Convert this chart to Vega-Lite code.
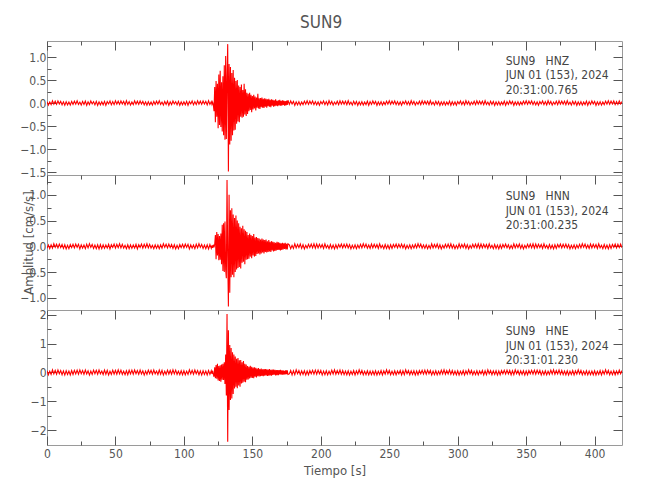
{
"$schema": "https://vega.github.io/schema/vega-lite/v6.json",
"padding": {"left": 19, "top": 14, "right": 10, "bottom": 10},
"title": {"text": "SUN9", "anchor": "middle", "offset": 7},
"spacing": 0,
"bounds": "flush",
"config": {
  "font": "Liberation Sans Narrow, DejaVu Sans Condensed, Liberation Sans, sans-serif",
  "view": {"stroke": "#9a9a9a", "strokeWidth": 1},
  "axis": {"domain": false, "grid": false, "labelColor": "#555555", "labelFontSize": 12, "titleColor": "#555555", "titleFontSize": 13, "titleFontWeight": "normal", "tickColor": "#555555", "tickWidth": 1, "labelFlush": false, "labelOverlap": false, "labelBound": false},
  "title": {"fontSize": 17, "fontWeight": "normal", "color": "#555555"}
},
"datasets": {
"w": [
{"t":0,"z":0.03,"n":-0.04,"e":0.06},{"t":1,"z":-0.045,"n":0.025,"e":-0.08},{"t":2,"z":0.02,"n":-0.045,"e":0.045},{"t":3,"z":-0.035,"n":0.03,"e":-0.07},{"t":4,"z":0.05,"n":-0.035,"e":0.09},{"t":5,"z":-0.025,"n":0.05,"e":-0.05},{"t":6,"z":0.04,"n":-0.02,"e":0.075},{"t":7,"z":-0.03,"n":0.04,"e":-0.06},{"t":8,"z":0.045,"n":-0.03,"e":0.085},{"t":9,"z":-0.02,"n":0.045,"e":-0.045},
{"t":10,"z":0.035,"n":-0.025,"e":0.065},{"t":11,"z":-0.04,"n":0.035,"e":-0.08},{"t":12,"z":0.025,"n":-0.04,"e":0.055},{"t":13,"z":-0.05,"n":0.03,"e":-0.09},{"t":14,"z":0.03,"n":-0.05,"e":0.06},{"t":15,"z":-0.04,"n":0.02,"e":-0.07},{"t":16,"z":0.02,"n":-0.045,"e":0.05},{"t":17,"z":-0.045,"n":0.035,"e":-0.085},{"t":18,"z":0.035,"n":-0.025,"e":0.065},{"t":19,"z":-0.03,"n":0.04,"e":-0.07},
{"t":20,"z":0.04,"n":-0.03,"e":0.075},{"t":21,"z":-0.025,"n":0.045,"e":-0.05},{"t":22,"z":0.05,"n":-0.02,"e":0.08},{"t":23,"z":-0.03,"n":0.04,"e":-0.06},{"t":24,"z":0.02,"n":-0.05,"e":0.09},{"t":25,"z":-0.045,"n":0.03,"e":-0.045},{"t":26,"z":0.035,"n":-0.035,"e":0.07},{"t":27,"z":-0.03,"n":0.025,"e":-0.065},{"t":28,"z":0.04,"n":-0.045,"e":0.085},{"t":29,"z":-0.05,"n":0.04,"e":-0.055},
{"t":30,"z":0.025,"n":-0.03,"e":0.06},{"t":31,"z":-0.035,"n":0.05,"e":-0.09},{"t":32,"z":0.045,"n":-0.02,"e":0.05},{"t":33,"z":-0.02,"n":0.035,"e":-0.07},{"t":34,"z":0.03,"n":-0.04,"e":0.08},{"t":35,"z":-0.04,"n":0.025,"e":-0.045},{"t":36,"z":0.035,"n":-0.045,"e":0.075},{"t":37,"z":-0.05,"n":0.03,"e":-0.06},{"t":38,"z":0.025,"n":-0.05,"e":0.085},{"t":39,"z":-0.04,"n":0.035,"e":-0.05},
{"t":40,"z":0.025,"n":-0.045,"e":0.05},{"t":41,"z":-0.04,"n":0.03,"e":-0.07},{"t":42,"z":0.035,"n":-0.04,"e":0.085},{"t":43,"z":-0.05,"n":0.025,"e":-0.06},{"t":44,"z":0.03,"n":-0.035,"e":0.075},{"t":45,"z":-0.02,"n":0.04,"e":-0.09},{"t":46,"z":0.045,"n":-0.05,"e":0.045},{"t":47,"z":-0.04,"n":0.03,"e":-0.065},{"t":48,"z":0.03,"n":-0.02,"e":0.08},{"t":49,"z":-0.035,"n":0.045,"e":-0.055},
{"t":50,"z":0.05,"n":-0.035,"e":0.07},{"t":51,"z":-0.025,"n":0.04,"e":-0.06},{"t":52,"z":0.04,"n":-0.025,"e":0.09},{"t":53,"z":-0.03,"n":0.05,"e":-0.05},{"t":54,"z":0.045,"n":-0.03,"e":0.08},{"t":55,"z":-0.02,"n":0.04,"e":-0.065},{"t":56,"z":0.035,"n":-0.035,"e":0.045},{"t":57,"z":-0.04,"n":0.02,"e":-0.075},{"t":58,"z":0.05,"n":-0.045,"e":0.06},{"t":59,"z":-0.03,"n":0.03,"e":-0.08},
{"t":60,"z":0.03,"n":-0.045,"e":0.075},{"t":61,"z":-0.045,"n":0.03,"e":-0.05},{"t":62,"z":0.02,"n":-0.04,"e":0.08},{"t":63,"z":-0.035,"n":0.025,"e":-0.06},{"t":64,"z":0.05,"n":-0.035,"e":0.09},{"t":65,"z":-0.025,"n":0.04,"e":-0.045},{"t":66,"z":0.04,"n":-0.05,"e":0.07},{"t":67,"z":-0.03,"n":0.03,"e":-0.065},{"t":68,"z":0.045,"n":-0.02,"e":0.085},{"t":69,"z":-0.02,"n":0.045,"e":-0.055},
{"t":70,"z":0.035,"n":-0.035,"e":0.06},{"t":71,"z":-0.04,"n":0.04,"e":-0.09},{"t":72,"z":0.025,"n":-0.025,"e":0.05},{"t":73,"z":-0.05,"n":0.05,"e":-0.07},{"t":74,"z":0.03,"n":-0.03,"e":0.08},{"t":75,"z":-0.04,"n":0.04,"e":-0.045},{"t":76,"z":0.02,"n":-0.035,"e":0.075},{"t":77,"z":-0.045,"n":0.02,"e":-0.06},{"t":78,"z":0.035,"n":-0.045,"e":0.085},{"t":79,"z":-0.03,"n":0.03,"e":-0.05},
{"t":80,"z":0.04,"n":-0.04,"e":0.05},{"t":81,"z":-0.025,"n":0.025,"e":-0.07},{"t":82,"z":0.05,"n":-0.045,"e":0.085},{"t":83,"z":-0.03,"n":0.03,"e":-0.06},{"t":84,"z":0.02,"n":-0.035,"e":0.075},{"t":85,"z":-0.045,"n":0.05,"e":-0.09},{"t":86,"z":0.035,"n":-0.02,"e":0.045},{"t":87,"z":-0.03,"n":0.04,"e":-0.065},{"t":88,"z":0.04,"n":-0.03,"e":0.08},{"t":89,"z":-0.05,"n":0.045,"e":-0.055},
{"t":90,"z":0.025,"n":-0.025,"e":0.07},{"t":91,"z":-0.035,"n":0.035,"e":-0.06},{"t":92,"z":0.045,"n":-0.04,"e":0.09},{"t":93,"z":-0.02,"n":0.03,"e":-0.05},{"t":94,"z":0.03,"n":-0.05,"e":0.08},{"t":95,"z":-0.04,"n":0.02,"e":-0.065},{"t":96,"z":0.035,"n":-0.045,"e":0.045},{"t":97,"z":-0.05,"n":0.035,"e":-0.075},{"t":98,"z":0.025,"n":-0.025,"e":0.06},{"t":99,"z":-0.04,"n":0.04,"e":-0.08},
{"t":100,"z":0.025,"n":-0.03,"e":0.06},{"t":101,"z":-0.04,"n":0.045,"e":-0.08},{"t":102,"z":0.035,"n":-0.02,"e":0.045},{"t":103,"z":-0.05,"n":0.04,"e":-0.07},{"t":104,"z":0.03,"n":-0.05,"e":0.09},{"t":105,"z":-0.02,"n":0.03,"e":-0.05},{"t":106,"z":0.045,"n":-0.035,"e":0.075},{"t":107,"z":-0.04,"n":0.025,"e":-0.06},{"t":108,"z":0.03,"n":-0.045,"e":0.085},{"t":109,"z":-0.035,"n":0.04,"e":-0.045},
{"t":110,"z":0.05,"n":-0.03,"e":0.065},{"t":111,"z":-0.025,"n":0.05,"e":-0.08},{"t":112,"z":0.04,"n":-0.02,"e":0.055},{"t":113,"z":-0.03,"n":0.035,"e":-0.09},{"t":114,"z":0.045,"n":-0.04,"e":0.06},{"t":115,"z":-0.02,"n":0.025,"e":-0.07},{"t":116,"z":0.035,"n":-0.045,"e":0.05},{"t":117,"z":-0.04,"n":0.03,"e":-0.085},{"t":118,"z":0.05,"n":-0.05,"e":0.065},{"t":119,"z":-0.03,"n":0.035,"e":-0.07},
{"t":120,"z":0.03,"n":-0.04,"e":0.06},
{"t":120.5,"z":-0.03,"n":0.02,"e":-0.05},{"t":121,"z":0.02,"n":-0.03,"e":0.06},{"t":121.5,"z":-0.04,"n":0.03,"e":-0.07},{"t":122,"z":-0.18,"n":-0.02,"e":-0.15},{"t":122.5,"z":0.35,"n":0.04,"e":0.18},{"t":123,"z":-0.42,"n":0.22,"e":-0.2},{"t":123.5,"z":0.48,"n":-0.25,"e":0.26},{"t":124,"z":-0.3,"n":0.28,"e":-0.22},{"t":124.5,"z":0.42,"n":-0.18,"e":0.3},{"t":125,"z":-0.55,"n":0.24,"e":-0.28},{"t":125.5,"z":0.62,"n":-0.27,"e":0.22},{"t":126,"z":-0.48,"n":0.2,"e":-0.3},{"t":126.5,"z":0.7,"n":-0.26,"e":0.25},{"t":127,"z":-0.52,"n":0.25,"e":-0.32},{"t":127.5,"z":0.45,"n":-0.35,"e":0.28},{"t":128,"z":-0.62,"n":0.42,"e":-0.25},{"t":128.5,"z":0.58,"n":-0.48,"e":0.3},{"t":129,"z":-0.7,"n":0.45,"e":-0.26},{"t":129.5,"z":0.82,"n":-0.5,"e":0.35},{"t":130,"z":-0.8,"n":0.48,"e":-0.4},{"t":130.5,"z":1.02,"n":-0.45,"e":0.62},{"t":131,"z":-0.78,"n":-0.62,"e":-0.8},{"t":131.5,"z":0.55,"n":1.29,"e":2.03},{"t":132,"z":1.28,"n":-0.2,"e":-2.41},{"t":132.5,"z":-1.49,"n":-1.17,"e":1.47},{"t":133,"z":0.85,"n":1.0,"e":-1.3},{"t":133.5,"z":-0.9,"n":-0.9,"e":0.95},{"t":134,"z":0.78,"n":0.7,"e":-0.96},{"t":134.5,"z":-0.82,"n":-0.6,"e":0.85},{"t":135,"z":0.65,"n":0.74,"e":-0.9},{"t":135.5,"z":-0.7,"n":-0.55,"e":0.7},{"t":136,"z":0.72,"n":0.62,"e":-0.75},{"t":136.5,"z":-0.6,"n":-0.6,"e":0.62},{"t":137,"z":0.55,"n":0.55,"e":-0.56},{"t":137.5,"z":-0.58,"n":-0.5,"e":0.55},{"t":138,"z":0.48,"n":0.6,"e":-0.5},{"t":138.5,"z":-0.45,"n":-0.45,"e":0.48},{"t":139,"z":0.5,"n":0.5,"e":-0.55},{"t":139.5,"z":-0.4,"n":-0.42,"e":0.5},{"t":140,"z":0.38,"n":0.45,"e":-0.45},{"t":140.5,"z":-0.42,"n":-0.4,"e":0.42},{"t":141,"z":0.35,"n":0.38,"e":-0.5},{"t":141.5,"z":-0.3,"n":-0.43,"e":0.43},{"t":142,"z":0.4,"n":0.35,"e":-0.38},{"t":142.5,"z":-0.32,"n":-0.32,"e":0.35},{"t":143,"z":0.28,"n":0.4,"e":-0.36},{"t":143.5,"z":-0.3,"n":-0.3,"e":0.4},{"t":144,"z":0.42,"n":0.33,"e":-0.32},{"t":144.5,"z":-0.25,"n":-0.35,"e":0.3},{"t":145,"z":0.3,"n":0.3,"e":-0.34},{"t":145.5,"z":-0.28,"n":-0.26,"e":0.28},{"t":146,"z":0.22,"n":0.28,"e":-0.25},{"t":146.5,"z":-0.24,"n":-0.25,"e":0.22},{"t":147,"z":0.2,"n":0.22,"e":-0.24},{"t":147.5,"z":-0.18,"n":-0.24,"e":0.2},{"t":148,"z":0.22,"n":0.25,"e":-0.21},{"t":148.5,"z":-0.15,"n":-0.2,"e":0.23},{"t":149,"z":0.18,"n":0.22,"e":-0.18},{"t":149.5,"z":-0.2,"n":-0.23,"e":0.2},{"t":150,"z":0.15,"n":0.2,"e":-0.19},{"t":150.5,"z":-0.14,"n":-0.18,"e":0.17},{"t":151,"z":0.18,"n":0.24,"e":-0.2},{"t":151.5,"z":-0.12,"n":-0.2,"e":0.18},{"t":152,"z":0.14,"n":0.17,"e":-0.15},{"t":152.5,"z":-0.16,"n":-0.19,"e":0.16},{"t":153,"z":0.12,"n":0.18,"e":-0.17},{"t":153.5,"z":-0.1,"n":-0.15,"e":0.14},{"t":154,"z":0.2,"n":0.16,"e":-0.13},{"t":154.5,"z":-0.12,"n":-0.14,"e":0.15},{"t":155,"z":0.1,"n":0.15,"e":-0.14},{"t":155.5,"z":-0.13,"n":-0.16,"e":0.12},{"t":156,"z":0.11,"n":0.13,"e":-0.13},{"t":156.5,"z":-0.09,"n":-0.14,"e":0.14},{"t":157,"z":0.12,"n":0.15,"e":-0.12},{"t":157.5,"z":-0.1,"n":-0.12,"e":0.11},{"t":158,"z":0.09,"n":0.13,"e":-0.13},{"t":158.5,"z":-0.11,"n":-0.14,"e":0.12},{"t":159,"z":0.1,"n":0.12,"e":-0.11},{"t":159.5,"z":-0.08,"n":-0.11,"e":0.12},{"t":160,"z":0.09,"n":0.13,"e":-0.1},{"t":160.5,"z":-0.1,"n":-0.12,"e":0.11},{"t":161,"z":0.08,"n":0.1,"e":-0.12},{"t":161.5,"z":-0.07,"n":-0.11,"e":0.1},{"t":162,"z":0.09,"n":0.12,"e":-0.11},{"t":162.5,"z":-0.08,"n":-0.1,"e":0.12},{"t":163,"z":0.07,"n":0.09,"e":-0.1},{"t":163.5,"z":-0.09,"n":-0.11,"e":0.09},{"t":164,"z":0.08,"n":0.1,"e":-0.11},{"t":164.5,"z":-0.06,"n":-0.08,"e":0.1},{"t":165,"z":0.07,"n":0.09,"e":-0.09},{"t":165.5,"z":-0.08,"n":-0.1,"e":0.1},{"t":166,"z":0.06,"n":0.08,"e":-0.08},{"t":166.5,"z":-0.07,"n":-0.09,"e":0.09},{"t":167,"z":0.08,"n":0.07,"e":-0.1},{"t":167.5,"z":-0.06,"n":-0.08,"e":0.08},{"t":168,"z":0.05,"n":0.09,"e":-0.09},{"t":168.5,"z":-0.07,"n":-0.07,"e":0.08},{"t":169,"z":0.06,"n":0.08,"e":-0.09},{"t":169.5,"z":-0.05,"n":-0.07,"e":0.08},{"t":170,"z":0.07,"n":0.07,"e":-0.07},{"t":170.5,"z":-0.06,"n":-0.08,"e":0.09},{"t":171,"z":0.05,"n":0.06,"e":-0.08},{"t":171.5,"z":-0.06,"n":-0.07,"e":0.07},{"t":172,"z":0.06,"n":0.07,"e":-0.08},{"t":172.5,"z":-0.04,"n":-0.06,"e":0.07},{"t":173,"z":0.05,"n":0.06,"e":-0.08},{"t":173.5,"z":-0.06,"n":-0.05,"e":0.06},{"t":174,"z":0.04,"n":0.07,"e":-0.07},{"t":174.5,"z":-0.05,"n":-0.06,"e":0.08},{"t":175,"z":0.05,"n":0.05,"e":-0.06},{"t":175.5,"z":-0.04,"n":-0.06,"e":0.07},{"t":176,"z":0.06,"n":0.05,"e":-0.07},
{"t":177,"z":-0.03,"n":0.03,"e":-0.05},{"t":178,"z":0.045,"n":-0.045,"e":0.07},{"t":179,"z":-0.02,"n":0.02,"e":-0.085},{"t":180,"z":0.035,"n":-0.04,"e":0.06},{"t":181,"z":-0.05,"n":0.05,"e":-0.075},{"t":182,"z":0.025,"n":-0.03,"e":0.09},{"t":183,"z":-0.04,"n":0.035,"e":-0.045},{"t":184,"z":0.03,"n":-0.025,"e":0.065},{"t":185,"z":-0.045,"n":0.045,"e":-0.08},{"t":186,"z":0.02,"n":-0.04,"e":0.055},
{"t":187,"z":-0.035,"n":0.03,"e":-0.07},{"t":188,"z":0.04,"n":-0.05,"e":0.06},{"t":189,"z":-0.025,"n":0.02,"e":-0.09},{"t":190,"z":0.05,"n":-0.035,"e":0.05},{"t":191,"z":-0.03,"n":0.04,"e":-0.08},{"t":192,"z":0.04,"n":-0.025,"e":0.065},{"t":193,"z":-0.02,"n":0.045,"e":-0.045},{"t":194,"z":0.045,"n":-0.03,"e":0.075},{"t":195,"z":-0.035,"n":0.05,"e":-0.06},{"t":196,"z":0.03,"n":-0.035,"e":0.08},
{"t":197,"z":-0.04,"n":0.045,"e":-0.06},{"t":198,"z":0.025,"n":-0.03,"e":0.08},{"t":199,"z":-0.05,"n":0.04,"e":-0.045},{"t":200,"z":0.03,"n":-0.025,"e":0.07},{"t":201,"z":-0.02,"n":0.035,"e":-0.09},{"t":202,"z":0.045,"n":-0.04,"e":0.05},{"t":203,"z":-0.035,"n":0.05,"e":-0.075},{"t":204,"z":0.03,"n":-0.03,"e":0.06},{"t":205,"z":-0.04,"n":0.02,"e":-0.085},{"t":206,"z":0.05,"n":-0.045,"e":0.045},
{"t":207,"z":-0.025,"n":0.035,"e":-0.065},{"t":208,"z":0.035,"n":-0.04,"e":0.08},{"t":209,"z":-0.045,"n":0.025,"e":-0.055},{"t":210,"z":0.02,"n":-0.05,"e":0.09},{"t":211,"z":-0.03,"n":0.03,"e":-0.06},{"t":212,"z":0.04,"n":-0.04,"e":0.07},{"t":213,"z":-0.035,"n":0.035,"e":-0.05},{"t":214,"z":0.05,"n":-0.02,"e":0.085},{"t":215,"z":-0.025,"n":0.045,"e":-0.065},{"t":216,"z":0.04,"n":-0.03,"e":0.07},
{"t":217,"z":-0.025,"n":0.04,"e":-0.075},{"t":218,"z":0.04,"n":-0.025,"e":0.05},{"t":219,"z":-0.035,"n":0.045,"e":-0.08},{"t":220,"z":0.05,"n":-0.03,"e":0.06},{"t":221,"z":-0.03,"n":0.035,"e":-0.09},{"t":222,"z":0.02,"n":-0.05,"e":0.045},{"t":223,"z":-0.045,"n":0.02,"e":-0.07},{"t":224,"z":0.04,"n":-0.04,"e":0.065},{"t":225,"z":-0.03,"n":0.03,"e":-0.085},{"t":226,"z":0.035,"n":-0.045,"e":0.055},
{"t":227,"z":-0.05,"n":0.025,"e":-0.06},{"t":228,"z":0.025,"n":-0.035,"e":0.09},{"t":229,"z":-0.04,"n":0.04,"e":-0.05},{"t":230,"z":0.03,"n":-0.03,"e":0.07},{"t":231,"z":-0.045,"n":0.05,"e":-0.08},{"t":232,"z":0.02,"n":-0.02,"e":0.045},{"t":233,"z":-0.035,"n":0.045,"e":-0.075},{"t":234,"z":0.04,"n":-0.035,"e":0.06},{"t":235,"z":-0.05,"n":0.025,"e":-0.085},{"t":236,"z":0.03,"n":-0.04,"e":0.05},
{"t":237,"z":-0.03,"n":0.045,"e":-0.075},{"t":238,"z":0.045,"n":-0.03,"e":0.05},{"t":239,"z":-0.02,"n":0.04,"e":-0.08},{"t":240,"z":0.035,"n":-0.025,"e":0.06},{"t":241,"z":-0.05,"n":0.035,"e":-0.09},{"t":242,"z":0.025,"n":-0.04,"e":0.045},{"t":243,"z":-0.04,"n":0.05,"e":-0.07},{"t":244,"z":0.03,"n":-0.03,"e":0.065},{"t":245,"z":-0.045,"n":0.02,"e":-0.085},{"t":246,"z":0.02,"n":-0.045,"e":0.055},
{"t":247,"z":-0.035,"n":0.035,"e":-0.06},{"t":248,"z":0.04,"n":-0.04,"e":0.09},{"t":249,"z":-0.025,"n":0.025,"e":-0.05},{"t":250,"z":0.05,"n":-0.05,"e":0.07},{"t":251,"z":-0.03,"n":0.03,"e":-0.08},{"t":252,"z":0.04,"n":-0.04,"e":0.045},{"t":253,"z":-0.02,"n":0.035,"e":-0.075},{"t":254,"z":0.045,"n":-0.02,"e":0.06},{"t":255,"z":-0.035,"n":0.045,"e":-0.085},{"t":256,"z":0.03,"n":-0.03,"e":0.05},
{"t":257,"z":-0.04,"n":0.04,"e":-0.05},{"t":258,"z":0.025,"n":-0.025,"e":0.07},{"t":259,"z":-0.05,"n":0.045,"e":-0.085},{"t":260,"z":0.03,"n":-0.03,"e":0.06},{"t":261,"z":-0.02,"n":0.035,"e":-0.075},{"t":262,"z":0.045,"n":-0.05,"e":0.09},{"t":263,"z":-0.035,"n":0.02,"e":-0.045},{"t":264,"z":0.03,"n":-0.04,"e":0.065},{"t":265,"z":-0.04,"n":0.03,"e":-0.08},{"t":266,"z":0.05,"n":-0.045,"e":0.055},
{"t":267,"z":-0.025,"n":0.025,"e":-0.07},{"t":268,"z":0.035,"n":-0.035,"e":0.06},{"t":269,"z":-0.045,"n":0.04,"e":-0.09},{"t":270,"z":0.02,"n":-0.03,"e":0.05},{"t":271,"z":-0.03,"n":0.05,"e":-0.08},{"t":272,"z":0.04,"n":-0.02,"e":0.065},{"t":273,"z":-0.035,"n":0.045,"e":-0.045},{"t":274,"z":0.05,"n":-0.035,"e":0.075},{"t":275,"z":-0.025,"n":0.025,"e":-0.06},{"t":276,"z":0.04,"n":-0.04,"e":0.08},
{"t":277,"z":-0.025,"n":0.03,"e":-0.06},{"t":278,"z":0.04,"n":-0.045,"e":0.08},{"t":279,"z":-0.035,"n":0.02,"e":-0.045},{"t":280,"z":0.05,"n":-0.04,"e":0.07},{"t":281,"z":-0.03,"n":0.05,"e":-0.09},{"t":282,"z":0.02,"n":-0.03,"e":0.05},{"t":283,"z":-0.045,"n":0.035,"e":-0.075},{"t":284,"z":0.04,"n":-0.025,"e":0.06},{"t":285,"z":-0.03,"n":0.045,"e":-0.085},{"t":286,"z":0.035,"n":-0.04,"e":0.045},
{"t":287,"z":-0.05,"n":0.03,"e":-0.065},{"t":288,"z":0.025,"n":-0.05,"e":0.08},{"t":289,"z":-0.04,"n":0.02,"e":-0.055},{"t":290,"z":0.03,"n":-0.035,"e":0.09},{"t":291,"z":-0.045,"n":0.04,"e":-0.06},{"t":292,"z":0.02,"n":-0.025,"e":0.07},{"t":293,"z":-0.035,"n":0.045,"e":-0.05},{"t":294,"z":0.04,"n":-0.03,"e":0.085},{"t":295,"z":-0.05,"n":0.05,"e":-0.065},{"t":296,"z":0.03,"n":-0.035,"e":0.07},
{"t":297,"z":-0.04,"n":0.03,"e":-0.075},{"t":298,"z":0.025,"n":-0.045,"e":0.05},{"t":299,"z":-0.05,"n":0.02,"e":-0.08},{"t":300,"z":0.03,"n":-0.04,"e":0.06},{"t":301,"z":-0.02,"n":0.05,"e":-0.09},{"t":302,"z":0.045,"n":-0.03,"e":0.045},{"t":303,"z":-0.035,"n":0.035,"e":-0.07},{"t":304,"z":0.03,"n":-0.025,"e":0.065},{"t":305,"z":-0.04,"n":0.045,"e":-0.085},{"t":306,"z":0.05,"n":-0.04,"e":0.055},
{"t":307,"z":-0.025,"n":0.03,"e":-0.06},{"t":308,"z":0.035,"n":-0.05,"e":0.09},{"t":309,"z":-0.045,"n":0.02,"e":-0.05},{"t":310,"z":0.02,"n":-0.035,"e":0.07},{"t":311,"z":-0.03,"n":0.04,"e":-0.08},{"t":312,"z":0.04,"n":-0.025,"e":0.045},{"t":313,"z":-0.035,"n":0.045,"e":-0.075},{"t":314,"z":0.05,"n":-0.03,"e":0.06},{"t":315,"z":-0.025,"n":0.05,"e":-0.085},{"t":316,"z":0.04,"n":-0.035,"e":0.05},
{"t":317,"z":-0.025,"n":0.045,"e":-0.05},{"t":318,"z":0.04,"n":-0.03,"e":0.07},{"t":319,"z":-0.035,"n":0.04,"e":-0.085},{"t":320,"z":0.05,"n":-0.025,"e":0.06},{"t":321,"z":-0.03,"n":0.035,"e":-0.075},{"t":322,"z":0.02,"n":-0.04,"e":0.09},{"t":323,"z":-0.045,"n":0.05,"e":-0.045},{"t":324,"z":0.04,"n":-0.03,"e":0.065},{"t":325,"z":-0.03,"n":0.02,"e":-0.08},{"t":326,"z":0.035,"n":-0.045,"e":0.055},
{"t":327,"z":-0.05,"n":0.035,"e":-0.07},{"t":328,"z":0.025,"n":-0.04,"e":0.06},{"t":329,"z":-0.04,"n":0.025,"e":-0.09},{"t":330,"z":0.03,"n":-0.05,"e":0.05},{"t":331,"z":-0.045,"n":0.03,"e":-0.08},{"t":332,"z":0.02,"n":-0.04,"e":0.065},{"t":333,"z":-0.035,"n":0.035,"e":-0.045},{"t":334,"z":0.04,"n":-0.02,"e":0.075},{"t":335,"z":-0.05,"n":0.045,"e":-0.06},{"t":336,"z":0.03,"n":-0.03,"e":0.08},
{"t":337,"z":-0.03,"n":0.03,"e":-0.05},{"t":338,"z":0.045,"n":-0.045,"e":0.07},{"t":339,"z":-0.02,"n":0.02,"e":-0.085},{"t":340,"z":0.035,"n":-0.04,"e":0.06},{"t":341,"z":-0.05,"n":0.05,"e":-0.075},{"t":342,"z":0.025,"n":-0.03,"e":0.09},{"t":343,"z":-0.04,"n":0.035,"e":-0.045},{"t":344,"z":0.03,"n":-0.025,"e":0.065},{"t":345,"z":-0.045,"n":0.045,"e":-0.08},{"t":346,"z":0.02,"n":-0.04,"e":0.055},
{"t":347,"z":-0.035,"n":0.03,"e":-0.07},{"t":348,"z":0.04,"n":-0.05,"e":0.06},{"t":349,"z":-0.025,"n":0.02,"e":-0.09},{"t":350,"z":0.05,"n":-0.035,"e":0.05},{"t":351,"z":-0.03,"n":0.04,"e":-0.08},{"t":352,"z":0.04,"n":-0.025,"e":0.065},{"t":353,"z":-0.02,"n":0.045,"e":-0.045},{"t":354,"z":0.045,"n":-0.03,"e":0.075},{"t":355,"z":-0.035,"n":0.05,"e":-0.06},{"t":356,"z":0.03,"n":-0.035,"e":0.08},
{"t":357,"z":-0.04,"n":0.045,"e":-0.06},{"t":358,"z":0.025,"n":-0.03,"e":0.08},{"t":359,"z":-0.05,"n":0.04,"e":-0.045},{"t":360,"z":0.03,"n":-0.025,"e":0.07},{"t":361,"z":-0.02,"n":0.035,"e":-0.09},{"t":362,"z":0.045,"n":-0.04,"e":0.05},{"t":363,"z":-0.035,"n":0.05,"e":-0.075},{"t":364,"z":0.03,"n":-0.03,"e":0.06},{"t":365,"z":-0.04,"n":0.02,"e":-0.085},{"t":366,"z":0.05,"n":-0.045,"e":0.045},
{"t":367,"z":-0.025,"n":0.035,"e":-0.065},{"t":368,"z":0.035,"n":-0.04,"e":0.08},{"t":369,"z":-0.045,"n":0.025,"e":-0.055},{"t":370,"z":0.02,"n":-0.05,"e":0.09},{"t":371,"z":-0.03,"n":0.03,"e":-0.06},{"t":372,"z":0.04,"n":-0.04,"e":0.07},{"t":373,"z":-0.035,"n":0.035,"e":-0.05},{"t":374,"z":0.05,"n":-0.02,"e":0.085},{"t":375,"z":-0.025,"n":0.045,"e":-0.065},{"t":376,"z":0.04,"n":-0.03,"e":0.07},
{"t":377,"z":-0.025,"n":0.04,"e":-0.075},{"t":378,"z":0.04,"n":-0.025,"e":0.05},{"t":379,"z":-0.035,"n":0.045,"e":-0.08},{"t":380,"z":0.05,"n":-0.03,"e":0.06},{"t":381,"z":-0.03,"n":0.035,"e":-0.09},{"t":382,"z":0.02,"n":-0.05,"e":0.045},{"t":383,"z":-0.045,"n":0.02,"e":-0.07},{"t":384,"z":0.04,"n":-0.04,"e":0.065},{"t":385,"z":-0.03,"n":0.03,"e":-0.085},{"t":386,"z":0.035,"n":-0.045,"e":0.055},
{"t":387,"z":-0.05,"n":0.025,"e":-0.06},{"t":388,"z":0.025,"n":-0.035,"e":0.09},{"t":389,"z":-0.04,"n":0.04,"e":-0.05},{"t":390,"z":0.03,"n":-0.03,"e":0.07},{"t":391,"z":-0.045,"n":0.05,"e":-0.08},{"t":392,"z":0.02,"n":-0.02,"e":0.045},{"t":393,"z":-0.035,"n":0.045,"e":-0.075},{"t":394,"z":0.04,"n":-0.035,"e":0.06},{"t":395,"z":-0.05,"n":0.025,"e":-0.085},{"t":396,"z":0.03,"n":-0.04,"e":0.05},
{"t":397,"z":-0.03,"n":0.045,"e":-0.075},{"t":398,"z":0.045,"n":-0.03,"e":0.05},{"t":399,"z":-0.02,"n":0.04,"e":-0.08},{"t":400,"z":0.035,"n":-0.025,"e":0.06},{"t":401,"z":-0.05,"n":0.035,"e":-0.09},{"t":402,"z":0.025,"n":-0.04,"e":0.045},{"t":403,"z":-0.04,"n":0.05,"e":-0.07},{"t":404,"z":0.03,"n":-0.03,"e":0.065},{"t":405,"z":-0.045,"n":0.02,"e":-0.085},{"t":406,"z":0.02,"n":-0.045,"e":0.055},
{"t":407,"z":-0.035,"n":0.035,"e":-0.06},{"t":408,"z":0.04,"n":-0.04,"e":0.09},{"t":409,"z":-0.025,"n":0.025,"e":-0.05},{"t":410,"z":0.05,"n":-0.05,"e":0.07},{"t":411,"z":-0.03,"n":0.03,"e":-0.08},{"t":412,"z":0.04,"n":-0.04,"e":0.045},{"t":413,"z":-0.02,"n":0.035,"e":-0.075},{"t":414,"z":0.045,"n":-0.02,"e":0.06},{"t":415,"z":-0.035,"n":0.045,"e":-0.085},{"t":416,"z":0.03,"n":-0.03,"e":0.05},
{"t":417,"z":-0.03,"n":0.04,"e":-0.06},{"t":418,"z":0.045,"n":-0.025,"e":0.08},{"t":419,"z":-0.02,"n":0.045,"e":-0.045},{"t":420,"z":0.035,"n":-0.03,"e":0.07}
]
},
"vconcat": [
{
  "width": 575, "height": 134,
  "layer": [
    {
      "data": {"name": "w"},
      "mark": {"type": "line", "color": "#ff0000", "strokeWidth": 1.1, "clip": true},
      "encoding": {
        "x": {"field": "t", "type": "quantitative", "scale": {"domain": [0, 420], "nice": false, "zero": false}, "axis": null},
        "y": {"field": "z", "type": "quantitative", "scale": {"domain": [-1.565, 1.348], "nice": false, "zero": false},
              "axis": {"orient": "left", "title": null, "values": [-1.5,-1.25,-1,-0.75,-0.5,-0.25,0,0.25,0.5,0.75,1,1.25],
                       "labelExpr": "abs(datum.value*2-round(datum.value*2))<0.001 ? format(datum.value, '.1f') : ''",
                       "labelPadding": 10,
                       "tickSize": {"condition": {"test": "abs(datum.value*2-round(datum.value*2))<0.001", "value": -9}, "value": -4}}}
      }
    },
    {
      "data": {"values": [{"label": "SUN9\u00a0\u00a0\u00a0HNZ\nJUN 01 (153), 2024\n20:31:00.765"}]},
      "mark": {"type": "text", "align": "left", "baseline": "top", "fontSize": 12, "lineHeight": 14.5, "lineBreak": "\n", "color": "#444444"},
      "encoding": {
        "x": {"datum": 335, "type": "quantitative",
              "axis": {"orient": "top", "title": null, "labels": false, "values": [0,25,50,75,100,125,150,175,200,225,250,275,300,325,350,375,400],
                       "tickSize": {"condition": {"test": "datum.value % 50 === 0", "value": -9}, "value": -4}}},
        "y": {"datum": 1.03, "type": "quantitative",
              "axis": {"orient": "right", "title": null, "labels": false, "values": [-1.5,-1.25,-1,-0.75,-0.5,-0.25,0,0.25,0.5,0.75,1,1.25],
                       "tickSize": {"condition": {"test": "abs(datum.value*2-round(datum.value*2))<0.001", "value": -9}, "value": -4}}},
        "text": {"field": "label"}
      }
    }
  ],
  "resolve": {"axis": {"x": "independent", "y": "independent"}}
},
{
  "width": 575, "height": 135,
  "layer": [
    {
      "data": {"name": "w"},
      "mark": {"type": "line", "color": "#ff0000", "strokeWidth": 1.1, "clip": true},
      "encoding": {
        "x": {"field": "t", "type": "quantitative", "scale": {"domain": [0, 420], "nice": false, "zero": false}, "axis": null},
        "y": {"field": "n", "type": "quantitative", "scale": {"domain": [-1.237, 1.385], "nice": false, "zero": false},
              "axis": {"orient": "left", "title": "Amplitud [cm/s/s]", "titlePadding": -16, "values": [-1,-0.75,-0.5,-0.25,0,0.25,0.5,0.75,1,1.25],
                       "labelExpr": "abs(datum.value*2-round(datum.value*2))<0.001 ? format(datum.value, '.1f') : ''",
                       "labelPadding": 10,
                       "tickSize": {"condition": {"test": "abs(datum.value*2-round(datum.value*2))<0.001", "value": -9}, "value": -4}}}
      }
    },
    {
      "data": {"values": [{"label": "SUN9\u00a0\u00a0\u00a0HNN\nJUN 01 (153), 2024\n20:31:00.235"}]},
      "mark": {"type": "text", "align": "left", "baseline": "top", "fontSize": 12, "lineHeight": 14.5, "lineBreak": "\n", "color": "#444444"},
      "encoding": {
        "x": {"datum": 335, "type": "quantitative",
              "axis": {"orient": "top", "title": null, "labels": false, "values": [0,25,50,75,100,125,150,175,200,225,250,275,300,325,350,375,400],
                       "tickSize": {"condition": {"test": "datum.value % 50 === 0", "value": -9}, "value": -4}}},
        "y": {"datum": 1.07, "type": "quantitative",
              "axis": {"orient": "right", "title": null, "labels": false, "values": [-1,-0.75,-0.5,-0.25,0,0.25,0.5,0.75,1,1.25],
                       "tickSize": {"condition": {"test": "abs(datum.value*2-round(datum.value*2))<0.001", "value": -9}, "value": -4}}},
        "text": {"field": "label"}
      }
    }
  ],
  "resolve": {"axis": {"x": "independent", "y": "independent"}}
},
{
  "width": 575, "height": 135,
  "layer": [
    {
      "data": {"name": "w"},
      "mark": {"type": "line", "color": "#ff0000", "strokeWidth": 1.1, "clip": true},
      "encoding": {
        "x": {"field": "t", "type": "quantitative", "scale": {"domain": [0, 420], "nice": false, "zero": false},
              "axis": {"orient": "bottom", "title": "Tiempo [s]", "titlePadding": 0, "values": [0,25,50,75,100,125,150,175,200,225,250,275,300,325,350,375,400],
                       "labelExpr": "datum.value % 50 === 0 ? datum.label : ''",
                       "labelPadding": 12,
                       "tickSize": {"condition": {"test": "datum.value % 50 === 0", "value": -9}, "value": -4}}},
        "y": {"field": "e", "type": "quantitative", "scale": {"domain": [-2.52, 2.17], "nice": false, "zero": false},
              "axis": {"orient": "left", "title": null, "values": [-2,-1.5,-1,-0.5,0,0.5,1,1.5,2],
                       "labelExpr": "datum.value === round(datum.value) ? format(datum.value, 'd') : ''",
                       "labelPadding": 10,
                       "tickSize": {"condition": {"test": "datum.value === round(datum.value)", "value": -9}, "value": -4}}}
      }
    },
    {
      "data": {"values": [{"label": "SUN9\u00a0\u00a0\u00a0HNE\nJUN 01 (153), 2024\n20:31:01.230"}]},
      "mark": {"type": "text", "align": "left", "baseline": "top", "fontSize": 12, "lineHeight": 14.5, "lineBreak": "\n", "color": "#444444"},
      "encoding": {
        "x": {"datum": 335, "type": "quantitative",
              "axis": {"orient": "top", "title": null, "labels": false, "values": [0,25,50,75,100,125,150,175,200,225,250,275,300,325,350,375,400],
                       "tickSize": {"condition": {"test": "datum.value % 50 === 0", "value": -9}, "value": -4}}},
        "y": {"datum": 1.6, "type": "quantitative",
              "axis": {"orient": "right", "title": null, "labels": false, "values": [-2,-1.5,-1,-0.5,0,0.5,1,1.5,2],
                       "tickSize": {"condition": {"test": "datum.value === round(datum.value)", "value": -9}, "value": -4}}},
        "text": {"field": "label"}
      }
    }
  ],
  "resolve": {"axis": {"x": "independent", "y": "independent"}}
}
]
}
